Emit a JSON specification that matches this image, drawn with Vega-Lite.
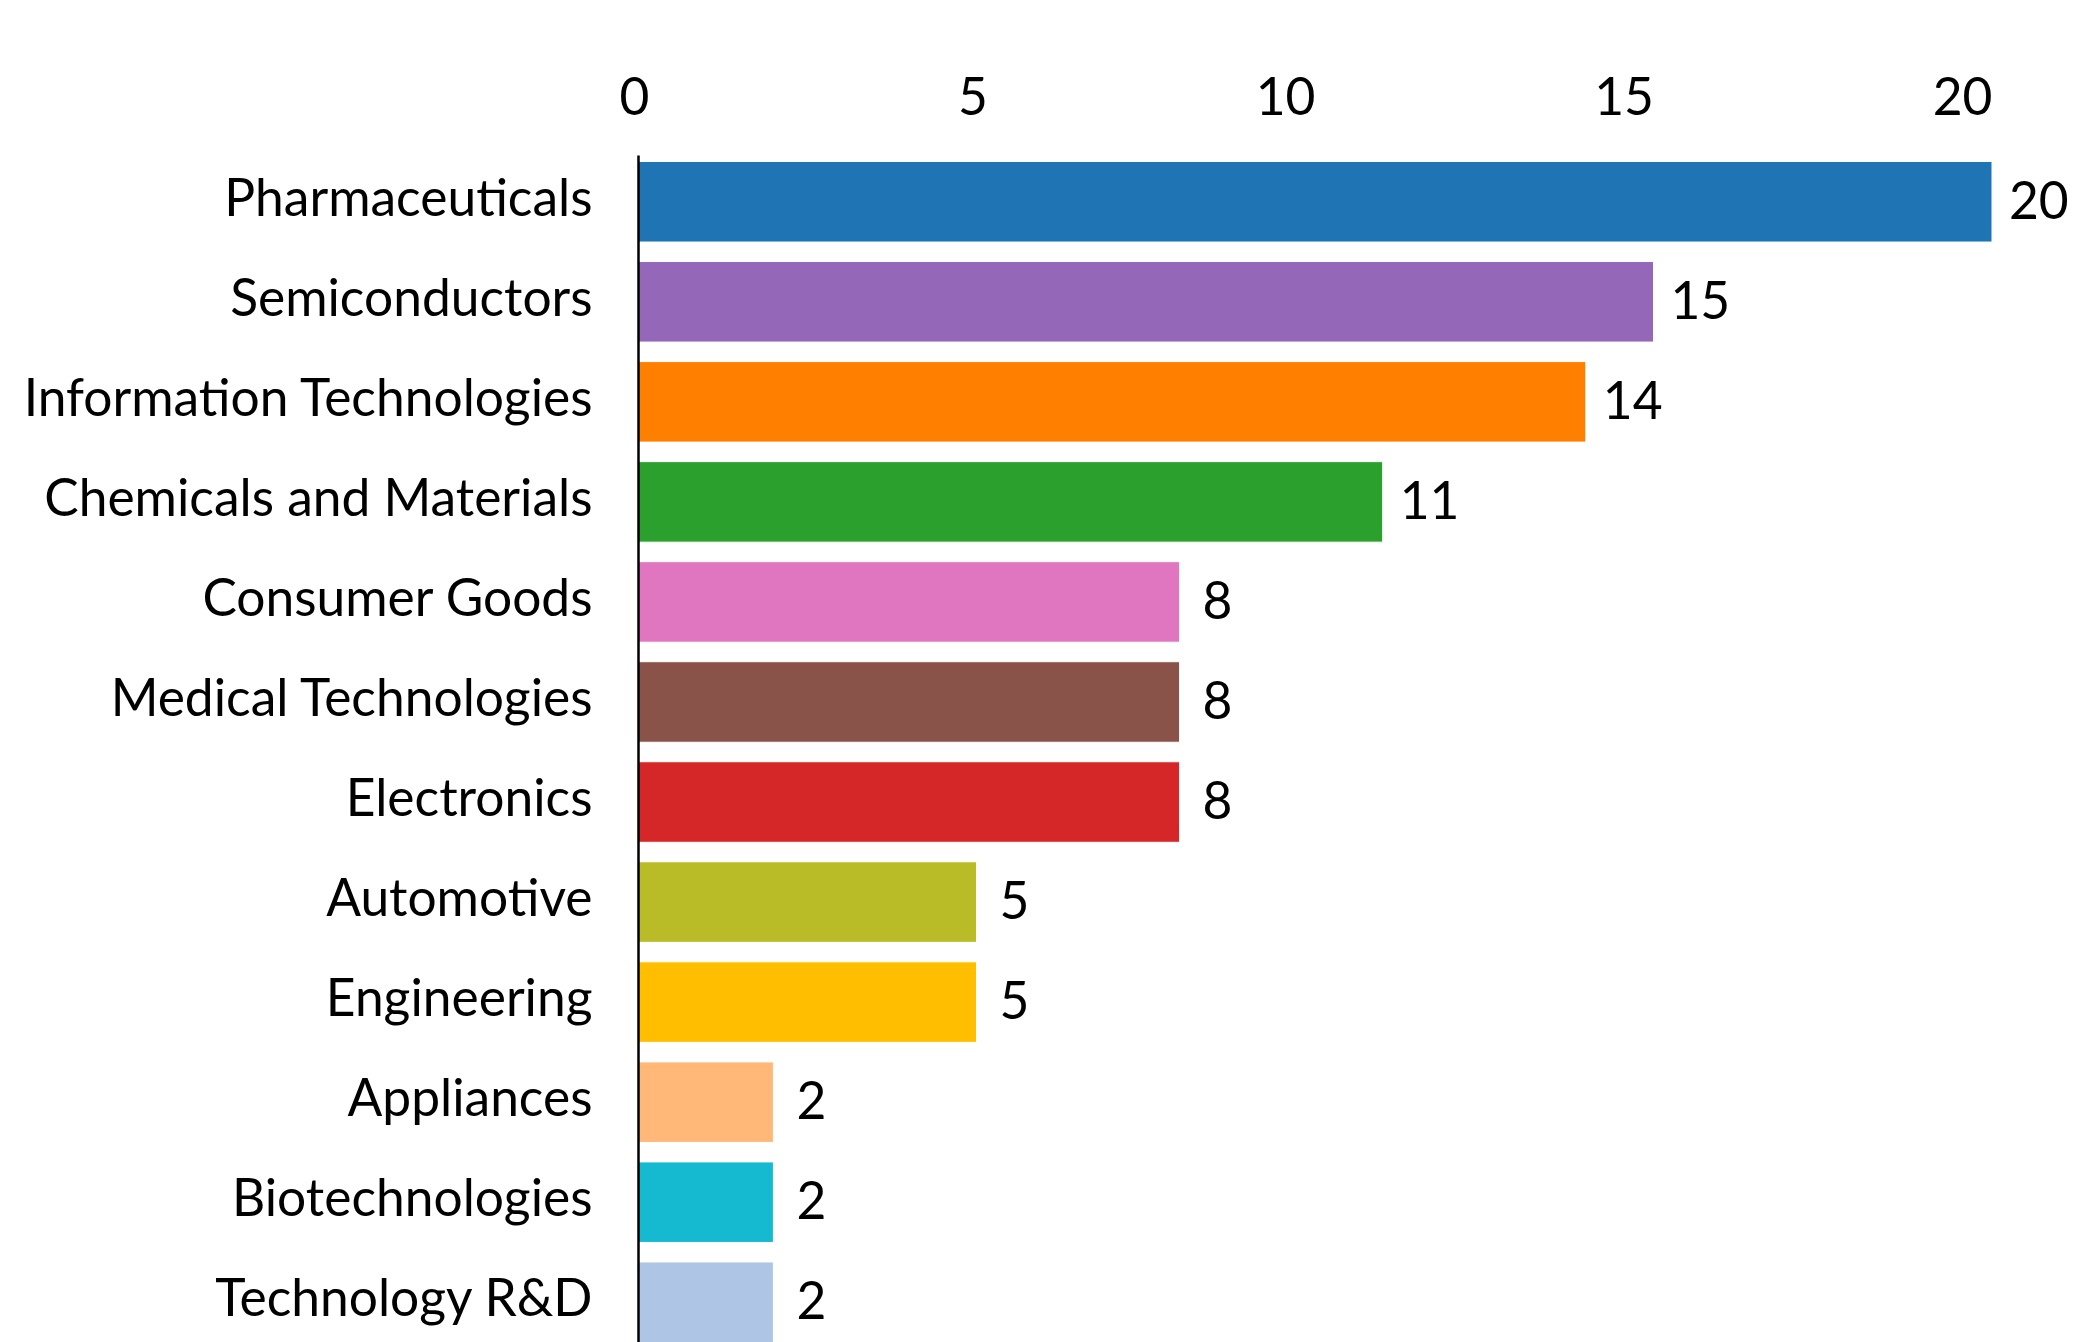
{
  "$schema": "https://vega.github.io/schema/vega-lite/v6.json",
  "autosize": "none",
  "width": 1354,
  "height": 1194,
  "padding": {"left": 638, "top": 155, "right": 83, "bottom": 0},
  "background": "white",
  "config": {"view": {"stroke": null}, "font": "Lato"},
  "data": {
    "values": [
      {"sector": "Pharmaceuticals", "count": 20},
      {"sector": "Semiconductors", "count": 15},
      {"sector": "Information Technologies", "count": 14},
      {"sector": "Chemicals and Materials", "count": 11},
      {"sector": "Consumer Goods", "count": 8},
      {"sector": "Medical Technologies", "count": 8},
      {"sector": "Electronics", "count": 8},
      {"sector": "Automotive", "count": 5},
      {"sector": "Engineering", "count": 5},
      {"sector": "Appliances", "count": 2},
      {"sector": "Biotechnologies", "count": 2},
      {"sector": "Technology R&D", "count": 2}
    ]
  },
  "encoding": {
    "y": {
      "field": "sector",
      "type": "nominal",
      "sort": null,
      "scale": {"paddingInner": 0.195, "paddingOuter": 0.065},
      "axis": {
        "title": null,
        "orient": "left",
        "zindex": 1,
        "ticks": false,
        "tickSize": 0,
        "domain": true,
        "domainColor": "#000000",
        "domainWidth": 2.5,
        "labelFont": "Lato",
        "labelFontSize": 51.5,
        "labelColor": "#000000",
        "labelPadding": 46,
        "labelLimit": 1000,
        "labelOffset": -1,
        "grid": false
      }
    },
    "x": {
      "field": "count",
      "type": "quantitative",
      "scale": {"domain": [0, 20], "nice": false},
      "axis": {
        "title": null,
        "orient": "top",
        "values": [0, 5, 10, 15, 20],
        "ticks": false,
        "tickSize": 0,
        "domain": false,
        "grid": false,
        "labelFont": "Lato",
        "labelFontSize": 51.5,
        "labelColor": "#000000",
        "labelBaseline": "alphabetic",
        "labelAlign": "center",
        "labelPadding": 41,
        "labelFlush": false,
        "labelOverlap": false,
        "labelOffset": {"condition": {"test": "datum.value >= 10", "value": -30}, "value": -4}
      }
    }
  },
  "layer": [
    {
      "mark": {"type": "bar", "stroke": "white", "strokeWidth": 1},
      "encoding": {
        "color": {
          "field": "sector",
          "type": "nominal",
          "legend": null,
          "scale": {
            "domain": ["Pharmaceuticals", "Semiconductors", "Information Technologies", "Chemicals and Materials", "Consumer Goods", "Medical Technologies", "Electronics", "Automotive", "Engineering", "Appliances", "Biotechnologies", "Technology R&D"],
            "range": ["#1f74b4", "#9467b8", "#ff7f00", "#2ca02c", "#e076c0", "#8a534a", "#d62728", "#b9bb27", "#ffbf00", "#ffb878", "#15b9d0", "#aec5e6"]
          }
        }
      }
    },
    {
      "mark": {"type": "text", "align": "left", "baseline": "middle", "dx": {"expr": "datum.count < 10 ? 23 : 17"}, "dy": 2, "font": "Lato", "fontSize": 51.5, "color": "#000000"},
      "encoding": {
        "text": {"field": "count", "type": "quantitative"}
      }
    }
  ]
}
